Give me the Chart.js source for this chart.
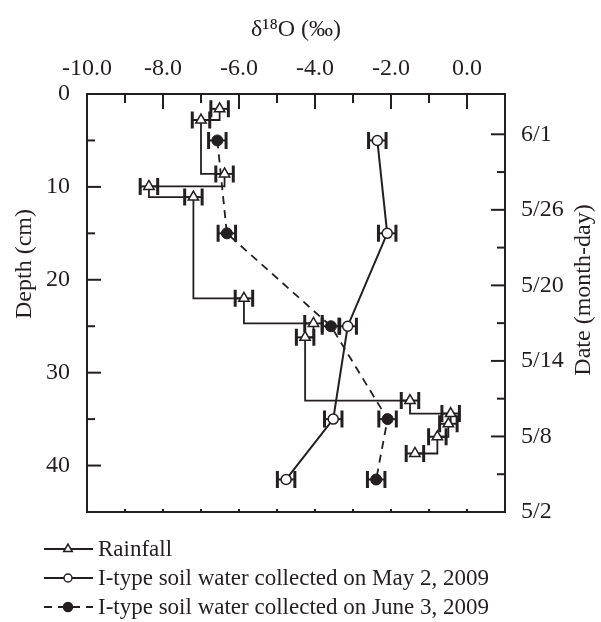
<!DOCTYPE html>
<html>
<head>
<meta charset="utf-8">
<script src="https://cdn.jsdelivr.net/npm/chart.js@4.4.1/dist/chart.umd.min.js"></script>
<style>
  html, body { margin: 0; padding: 0; background: #fff; }
  #wrap { width: 601px; height: 622px; position: relative; }
</style>
</head>
<body>
<div id="wrap"><canvas id="chart"></canvas></div>
<script>
// --- values ---
const rainO18 = [-6.51, -7.00, -6.38, -8.37, -7.20, -5.87, -4.04, -4.26, -1.50, -0.43, -0.49, -0.78, -1.37];
const rainDepth = [1.6, 2.8, 8.6, 9.95, 11.1, 22.0, 24.7, 26.2, 33.0, 34.4, 35.5, 36.9, 38.7];

const mayO18 = [-2.36, -2.10, -3.14, -3.52, -4.76];
const mayDepth = [5, 15, 25, 35, 41.5];

const juneO18 = [-6.57, -6.32, -3.58, -2.09, -2.39];
const juneDepth = [5, 15, 25, 35, 41.5];

const errO18 = 0.23; // +/- bar drawn on every sample

const dateTickDays = [0, 6, 12, 18, 24, 30];
const dateTickLabels = ["5/2", "5/8", "5/14", "5/20", "5/26", "6/1"];
const dateAxisMax = 33.2; // days after May 2 at depth 0

const seriesLabels = [
  "Rainfall",
  "I-type soil water collected on May 2, 2009",
  "I-type soil water collected on June 3, 2009",
];

const ink = "#231f20";
const serif = '"Liberation Serif", "Times New Roman", serif';
Chart.defaults.font.family = serif;
Chart.defaults.color = ink;

const toPoints = (xs, ys) => xs.map((v, i) => ({ x: v, y: ys[i] }));

// --- inward tick marks and the plot frame ---
const framePlugin = {
  id: "frame",
  afterDraw(chart) {
    const { ctx, chartArea: a, scales } = chart;
    ctx.save();
    ctx.strokeStyle = ink;
    ctx.lineWidth = 2;
    ctx.strokeRect(a.left, a.top, a.right - a.left, a.bottom - a.top);

    const tick = (x1, y1, x2, y2) => {
      ctx.beginPath();
      ctx.moveTo(x1, y1);
      ctx.lineTo(x2, y2);
      ctx.stroke();
    };

    // top axis: long every 2, short every 1
    for (let v = -9; v <= 0; v++) {
      const px = scales.x.getPixelForValue(v);
      const len = v % 2 === 0 ? 15 : 9;
      tick(px, a.top, px, a.top + len);
      tick(px, a.bottom, px, a.bottom - 3);
    }
    // left axis: long every 10, short every 5
    for (let d = 5; d < 45; d += 5) {
      const py = scales.y.getPixelForValue(d);
      const len = d % 10 === 0 ? 14 : 8;
      tick(a.left, py, a.left + len, py);
    }
    // right axis: long every 6 days, short every 3
    for (let t = 3; t <= 30; t += 3) {
      const py = scales.yDate.getPixelForValue(t);
      const len = t % 6 === 0 ? 14 : 8;
      tick(a.right, py, a.right - len, py);
    }

    // side titles
    ctx.fillStyle = ink;
    ctx.font = "24px " + serif;
    ctx.textAlign = "center";
    ctx.textBaseline = "middle";
    ctx.save();
    ctx.translate(25, 264);
    ctx.rotate(-Math.PI / 2);
    ctx.fillText("Depth (cm)", 0, 0);
    ctx.restore();
    ctx.save();
    ctx.translate(584, 290);
    ctx.rotate(-Math.PI / 2);
    ctx.fillText("Date (month-day)", 0, 0);
    ctx.restore();
    ctx.restore();
  },
};

// --- horizontal error bars under the markers ---
const errorBarPlugin = {
  id: "errorBars",
  beforeDatasetsDraw(chart) {
    const { ctx, scales } = chart;
    ctx.save();
    ctx.strokeStyle = ink;
    chart.data.datasets.forEach((ds, i) => {
      const meta = chart.getDatasetMeta(i);
      meta.data.forEach((el, j) => {
        const v = ds.data[j].x;
        const x1 = scales.x.getPixelForValue(v - errO18);
        const x2 = scales.x.getPixelForValue(v + errO18);
        const y = el.y;
        ctx.lineWidth = 2;
        ctx.beginPath();
        ctx.moveTo(x1, y);
        ctx.lineTo(x2, y);
        ctx.stroke();
        ctx.lineWidth = 3;
        ctx.beginPath();
        ctx.moveTo(x1, y - 8.5);
        ctx.lineTo(x1, y + 8.5);
        ctx.moveTo(x2, y - 8.5);
        ctx.lineTo(x2, y + 8.5);
        ctx.stroke();
      });
    });
    ctx.restore();
  },
};

// --- legend stacked under the plot ---
const legendPlugin = {
  id: "stackLegend",
  afterDraw(chart) {
    const { ctx } = chart;
    const rows = [549, 578, 607];
    ctx.save();
    chart.data.datasets.forEach((ds, i) => {
      const y = rows[i];
      ctx.strokeStyle = ink;
      ctx.lineWidth = 1.8;
      ctx.setLineDash(ds.borderDash || []);
      ctx.beginPath();
      ctx.moveTo(44, y);
      ctx.lineTo(93, y);
      ctx.stroke();
      ctx.setLineDash([]);
      ctx.fillStyle = ds.pointBackgroundColor;
      ctx.lineWidth = 1.5;
      Chart.helpers.drawPoint(
        ctx,
        { pointStyle: ds.pointStyle, radius: ds.pointRadius - 1, rotation: 0, borderWidth: 1.5 },
        68,
        y
      );
      ctx.fillStyle = ink;
      ctx.font = "23px " + serif;
      ctx.textAlign = "left";
      ctx.textBaseline = "middle";
      ctx.fillText(ds.label, 98, y + 1);
    });
    ctx.restore();
  },
};

new Chart(document.getElementById("chart"), {
  type: "scatter",
  data: {
    datasets: [
      {
        label: seriesLabels[0],
        data: toPoints(rainO18, rainDepth),
        showLine: true,
        stepped: "after",
        borderColor: ink,
        borderWidth: 1.8,
        pointStyle: "triangle",
        pointRadius: 6,
        pointBackgroundColor: "#ffffff",
        pointBorderColor: ink,
        pointBorderWidth: 1.5,
      },
      {
        label: seriesLabels[1],
        data: toPoints(mayO18, mayDepth),
        showLine: true,
        borderColor: ink,
        borderWidth: 2,
        pointStyle: "circle",
        pointRadius: 5,
        pointBackgroundColor: "#ffffff",
        pointBorderColor: ink,
        pointBorderWidth: 1.5,
      },
      {
        label: seriesLabels[2],
        data: toPoints(juneO18, juneDepth),
        showLine: true,
        borderColor: ink,
        borderWidth: 1.8,
        borderDash: [8, 6],
        pointStyle: "circle",
        pointRadius: 5.5,
        pointBackgroundColor: ink,
        pointBorderColor: ink,
        pointBorderWidth: 1,
      },
    ],
  },
  options: {
    responsive: true,
    maintainAspectRatio: false,
    animation: false,
    layout: { padding: { left: 0, right: 0, top: 0, bottom: 110 } },
    plugins: {
      legend: { display: false },
      tooltip: { enabled: false },
    },
    scales: {
      x: {
        type: "linear",
        position: "top",
        min: -10,
        max: 1,
        grid: { display: false },
        border: { display: false },
        ticks: {
          stepSize: 1,
          autoSkip: false,
          maxRotation: 0,
          padding: 3,
          font: { size: 24 },
          callback: (v) => (v <= 0 && v % 2 === 0 ? v.toFixed(1) : ""),
        },
        title: {
          display: true,
          text: "δ¹⁸O (‰)",
          font: { size: 24 },
          padding: { top: 15 },
        },
        afterFit: (scale) => { scale.height = 94; },
      },
      y: {
        type: "linear",
        position: "left",
        reverse: true,
        min: 0,
        max: 45,
        grid: { display: false },
        border: { display: false },
        ticks: {
          stepSize: 5,
          autoSkip: false,
          padding: 9,
          font: { size: 24 },
          callback: (v) => (v % 10 === 0 ? v : ""),
        },
        afterFit: (scale) => { scale.width = 87; },
      },
      yDate: {
        type: "linear",
        position: "right",
        min: 0,
        max: dateAxisMax,
        grid: { display: false },
        border: { display: false },
        ticks: {
          stepSize: 3,
          autoSkip: false,
          padding: 8,
          font: { size: 24 },
          callback: (v) => {
            const k = dateTickDays.indexOf(v);
            return k >= 0 ? dateTickLabels[k] : "";
          },
        },
        afterFit: (scale) => { scale.width = 96; },
      },
    },
  },
  plugins: [errorBarPlugin, framePlugin, legendPlugin],
});
</script>
</body>
</html>
